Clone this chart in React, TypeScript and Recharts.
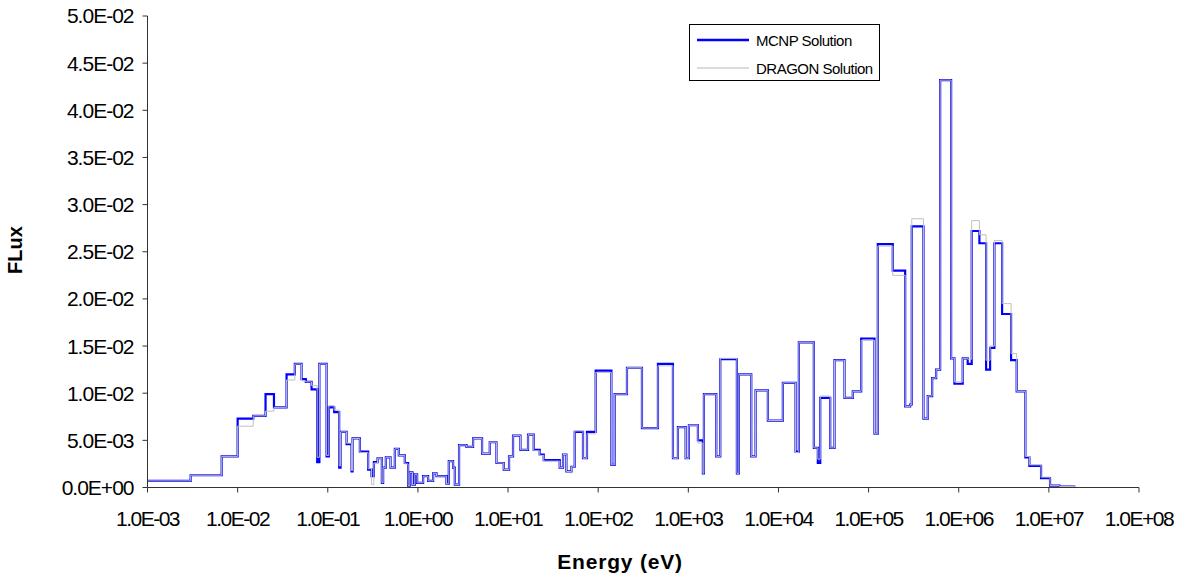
import { LineChart, Line, XAxis, YAxis, Legend, Label } from 'recharts';

// group boundaries (eV)
const energyEdges = [
  1e-3, 3.01e-3, 6.65e-3, 1.0e-2, 1.49e-2, 2.04e-2, 2.53e-2, 3.49e-2, 4.31e-2, 5.12e-2,
  5.71e-2, 6.61e-2, 7.63e-2, 8.07e-2, 9.7e-2, 0.1028, 0.1178, 0.1338, 0.1387, 0.1616,
  0.1836, 0.1884, 0.227, 0.2805, 0.3059, 0.3245, 0.3566, 0.398, 0.4114, 0.4406,
  0.4968, 0.5545, 0.614, 0.7158, 0.7788, 0.8133, 0.8712, 0.9239, 0.9797, 1.142,
  1.297, 1.474, 1.608, 2.076, 2.201, 2.456, 2.566, 2.862, 3.458, 4.093,
  5.15, 6.268, 7.437, 8.96, 10.26, 11.36, 13.73, 16.66, 19.27, 22.46,
  24.88, 37.43, 40.72, 44.41, 50.46, 54.9, 67.85, 75.12, 93.8, 140.1,
  152.4, 208.6, 305.9, 460.3, 675.1, 766.9, 933.4, 1015, 1278, 1451,
  1489, 2044, 2263, 3458, 3639, 4994, 5573, 7630, 11190, 15480,
  16840, 24690, 27340, 29070, 37520, 41880, 54060, 66800, 82790, 1.163e5,
  1.265e5, 1.855e5, 2.545e5, 2.892e5, 3.012e5, 4.061e5, 4.533e5, 5.072e5, 5.617e5, 6.221e5,
  8.236e5, 8.96e5, 1.107e6, 1.258e6, 1.393e6, 1.696e6, 2.013e6, 2.229e6, 2.488e6, 3.029e6,
  3.809e6, 4.395e6, 5.489e6, 6.079e6, 8.194e6, 1.031e7, 1.307e7, 1.967e7,
];

const mcnpFlux = [
  0.0007, 0.0013, 0.0033, 0.0073, 0.0076, 0.0099, 0.0085, 0.012, 0.0131, 0.0115,
  0.0112, 0.0104, 0.0027, 0.0131, 0.0033, 0.0085, 0.008, 0.0021, 0.0059, 0.0046,
  0.0017, 0.0052, 0.0038, 0.0019, 0.0012, 0.0027, 0.0031, 0.0005, 0.0021, 0.0032,
  0.0021, 0.0041, 0.0034, 0.0026, 0.0002, 0.0016, 0.0003, 0.0014, 0.0005, 0.0012,
  0.0007, 0.0015, 0.0012, 0.0004, 0.0028, 0.0021, 0.0003, 0.0045, 0.0043, 0.0052,
  0.0036, 0.0048, 0.0026, 0.0019, 0.0033, 0.0055, 0.004, 0.0056, 0.004, 0.0035,
  0.0029, 0.0021, 0.0035, 0.0017, 0.0022, 0.0059, 0.0031, 0.0059, 0.0124, 0.0024,
  0.0099, 0.0127, 0.0063, 0.0131, 0.0031, 0.0064, 0.0031, 0.0066, 0.005, 0.0015,
  0.0099, 0.0033, 0.0136, 0.0015, 0.012, 0.0033, 0.0103, 0.0071, 0.0111, 0.0038,
  0.0154, 0.0042, 0.0026, 0.0095, 0.0042, 0.0135, 0.0095, 0.0102, 0.0158, 0.0057,
  0.0258, 0.023, 0.0086, 0.0088, 0.0277, 0.0073, 0.0097, 0.0116, 0.0125, 0.0432,
  0.0137, 0.011, 0.0137, 0.0131, 0.0272, 0.0259, 0.0125, 0.0148, 0.0259, 0.0184,
  0.0135, 0.0102, 0.0032, 0.0023, 0.001, 0.0002, 0.0001,
];

const dragonFlux = [
  0.0007, 0.0013, 0.0033, 0.0065, 0.0076, 0.0081, 0.0085, 0.0114, 0.0131, 0.0113,
  0.0112, 0.0108, 0.0032, 0.0131, 0.0034, 0.0087, 0.0082, 0.0023, 0.0059, 0.0047,
  0.0018, 0.0052, 0.0037, 0.002, 0.0003, 0.0026, 0.0031, 0.0005, 0.0021, 0.0032,
  0.0021, 0.0041, 0.0034, 0.0025, 0.0002, 0.0016, 0.0003, 0.0014, 0.0005, 0.0012,
  0.0007, 0.0015, 0.0012, 0.0004, 0.0028, 0.0021, 0.0003, 0.0045, 0.0043, 0.0052,
  0.0036, 0.0048, 0.0026, 0.0019, 0.0033, 0.0055, 0.004, 0.0056, 0.0039, 0.0034,
  0.0028, 0.0021, 0.0035, 0.0017, 0.0022, 0.006, 0.0031, 0.0057, 0.0122, 0.0024,
  0.0099, 0.0127, 0.0063, 0.0129, 0.0031, 0.0064, 0.0031, 0.0066, 0.0047, 0.0015,
  0.0099, 0.0033, 0.0137, 0.0015, 0.012, 0.0033, 0.0103, 0.0071, 0.0111, 0.0037,
  0.0154, 0.0042, 0.003, 0.0097, 0.0042, 0.0135, 0.0095, 0.0102, 0.0156, 0.0057,
  0.0256, 0.0225, 0.0086, 0.0088, 0.0285, 0.0073, 0.0097, 0.0116, 0.0125, 0.0432,
  0.0137, 0.0112, 0.0137, 0.0136, 0.0283, 0.0268, 0.0135, 0.015, 0.0262, 0.0195,
  0.0142, 0.0102, 0.0033, 0.0024, 0.0011, 0.0002, 0.0001,
];

const xTicks = [1e-3, 1e-2, 1e-1, 1, 10, 100, 1e3, 1e4, 1e5, 1e6, 1e7, 1e8];
const yTicks = [0, 0.005, 0.01, 0.015, 0.02, 0.025, 0.03, 0.035, 0.04, 0.045, 0.05];

const FONT = '"Liberation Sans", Arial, sans-serif';

// each row is the lower edge of a group; last row closes the final step
const data = energyEdges.map((e, i) => ({
  e,
  mcnp: mcnpFlux[Math.min(i, mcnpFlux.length - 1)],
  dragon: dragonFlux[Math.min(i, dragonFlux.length - 1)],
}));

function sci(v: number) {
  if (v === 0) return '0.0E+00';
  const [m, ex] = v.toExponential(1).split('e');
  const n = parseInt(ex, 10);
  return `${m}E${n < 0 ? '-' : '+'}${String(Math.abs(n)).padStart(2, '0')}`;
}

function LegendBox() {
  const row = (color: string, width: number, text: string) => (
    <div style={{ display: 'flex', alignItems: 'center', height: 28 }}>
      <svg width={60} height={10} style={{ marginLeft: 6 }}>
        <line x1={1} y1={5} x2={53} y2={5} stroke={color} strokeWidth={width} />
      </svg>
      <span style={{ fontSize: 15, letterSpacing: -0.5, color: '#000', fontFamily: FONT }}>{text}</span>
    </div>
  );
  return (
    <div
      style={{
        border: '1px solid #000',
        background: '#fff',
        width: 191,
        height: 57,
        boxSizing: 'border-box',
        paddingTop: 1,
      }}
    >
      {row('#0000ff', 2.5, 'MCNP Solution')}
      {row('#b8b8b8', 1, 'DRAGON Solution')}
    </div>
  );
}

export default function App() {
  return (
    <div style={{ position: 'absolute', left: 0, top: 0, background: '#fff' }}>
      <LineChart width={1181} height={574} data={data} margin={{ top: 16, right: 42, bottom: 0, left: 0 }}>
        <XAxis
          dataKey="e"
          type="number"
          scale="log"
          domain={[1e-3, 1e8]}
          ticks={xTicks}
          interval={0}
          allowDataOverflow
          tickFormatter={sci}
          height={86.5}
          stroke="#333"
          tickSize={5}
          tickMargin={19}
          tick={{ fill: '#000', fontSize: 21, fontFamily: FONT, letterSpacing: -1.5 }}
        >
          <Label
            content={() => (
              <text
                x={620}
                y={569}
                textAnchor="middle"
                fontFamily={FONT}
                fontSize={21}
                fontWeight="bold"
                letterSpacing={0.8}
                fill="#000"
              >
                Energy (eV)
              </text>
            )}
          />
        </XAxis>
        <YAxis
          type="number"
          domain={[0, 0.05]}
          ticks={yTicks}
          interval={0}
          tickFormatter={sci}
          width={147.5}
          stroke="#333"
          tickSize={5}
          tickMargin={9}
          tick={{ fill: '#000', fontSize: 21, fontFamily: FONT, letterSpacing: -1 }}
        >
          <Label
            content={() => (
              <text
                x={22}
                y={250}
                transform="rotate(-90 22 250)"
                textAnchor="middle"
                fontFamily={FONT}
                fontSize={20}
                fontWeight="bold"
                fill="#000"
              >
                FLux
              </text>
            )}
          />
        </YAxis>
        <Legend
          layout="vertical"
          align="center"
          verticalAlign="middle"
          wrapperStyle={{ left: 689, top: 24, width: 192, height: 58 }}
          content={() => <LegendBox />}
        />
        <Line
          type="stepAfter"
          dataKey="mcnp"
          name="MCNP Solution"
          stroke="#0000ff"
          strokeWidth={2.2}
          dot={false}
          isAnimationActive={false}
        />
        <Line
          type="stepAfter"
          dataKey="dragon"
          name="DRAGON Solution"
          stroke="#c0c0c0"
          strokeWidth={1}
          dot={false}
          isAnimationActive={false}
        />
      </LineChart>
    </div>
  );
}
